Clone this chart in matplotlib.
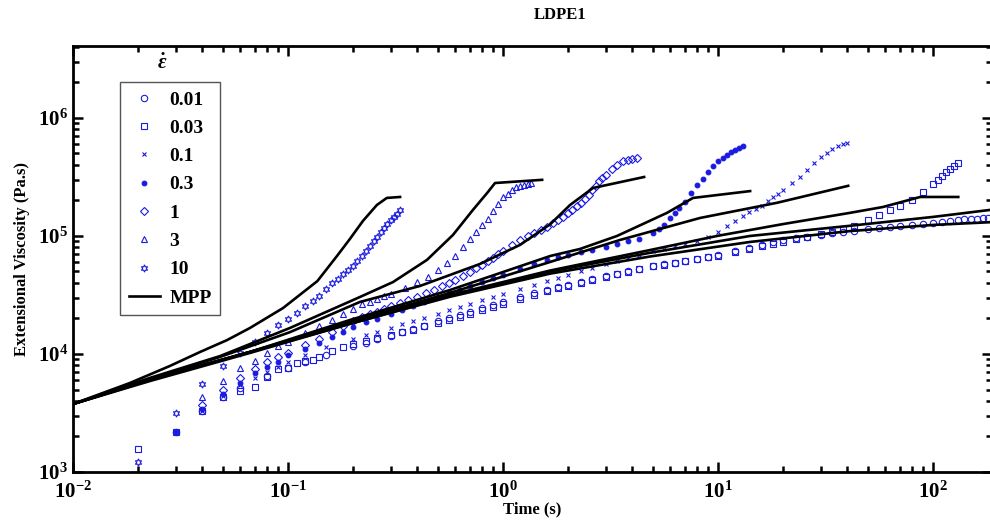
import math
import matplotlib.pyplot as plt
from matplotlib.ticker import LogLocator, FuncFormatter, NullFormatter

plt.rcParams['font.family'] = 'Liberation Serif'
plt.rcParams['font.weight'] = 'bold'
plt.rcParams['mathtext.fontset'] = 'custom'
plt.rcParams['mathtext.rm'] = 'Liberation Serif:bold'
plt.rcParams['mathtext.bf'] = 'Liberation Serif:bold'
plt.rcParams['mathtext.it'] = 'Liberation Serif:italic:bold'

# --- measured data (time in s, extensional viscosity in Pa.s) ---
t001 = [0.03, 0.04, 0.05, 0.06, 0.08, 0.10, 0.12, 0.15, 0.20, 0.23, 0.26, 0.30, 0.34, 0.38, 0.43, 0.50,
        0.56, 0.63, 0.70, 0.80, 0.90, 1.0, 1.2, 1.4, 1.6, 1.8, 2.0, 2.3, 2.6, 3.0, 3.4, 3.8, 4.3, 5.0,
        5.6, 6.3, 7.0, 8.0, 9.0, 10, 12, 14, 16, 18, 20, 23, 26, 30, 34, 38, 43, 50, 56, 63, 70, 80, 90,
        100, 110, 120, 130, 140, 150, 160, 170, 180]
eta001 = [2.18e3, 3.29e3, 4.32e3, 5.15e3, 6.51e3, 7.6e3, 8.55e3, 9.8e3, 1.16e4, 1.25e4, 1.33e4, 1.43e4,
          1.53e4, 1.62e4, 1.74e4, 1.89e4, 2.0e4, 2.14e4, 2.27e4, 2.44e4, 2.6e4, 2.75e4, 3.02e4, 3.26e4,
          3.49e4, 3.69e4, 3.86e4, 4.11e4, 4.33e4, 4.59e4, 4.8e4, 5.0e4, 5.23e4, 5.53e4, 5.74e4, 5.95e4,
          6.16e4, 6.43e4, 6.69e4, 6.9e4, 7.48e4, 7.97e4, 8.43e4, 8.85e4, 9.23e4, 9.56e4, 9.85e4, 1.02e5,
          1.05e5, 1.08e5, 1.11e5, 1.14e5, 1.17e5, 1.19e5, 1.22e5, 1.24e5, 1.27e5, 1.29e5, 1.31e5, 1.34e5,
          1.36e5, 1.38e5, 1.39e5, 1.40e5, 1.41e5, 1.42e5]

t003 = [0.02, 0.03, 0.04, 0.05, 0.06, 0.07, 0.08, 0.09, 0.10, 0.11, 0.12, 0.13, 0.14, 0.16, 0.18, 0.20,
        0.23, 0.26, 0.30, 0.34, 0.38, 0.43, 0.50, 0.56, 0.63, 0.70, 0.80, 0.90, 1.0, 1.2, 1.4, 1.6, 1.8,
        2.0, 2.3, 2.6, 3.0, 3.4, 3.8, 4.3, 5.0, 5.6, 6.3, 7.0, 8.0, 9.0, 10, 12, 14, 16, 18, 20, 23, 26,
        30, 34, 38, 43, 50, 56, 63, 70, 80, 90, 100, 105, 110, 115, 120, 125, 130]
eta003 = [1.57e3, 2.18e3, 3.29e3, 4.32e3, 4.86e3, 5.25e3, 6.38e3, 7.46e3, 7.6e3, 8.4e3, 8.73e3, 8.9e3,
          9.44e3, 1.06e4, 1.14e4, 1.21e4, 1.29e4, 1.36e4, 1.44e4, 1.53e4, 1.61e4, 1.71e4, 1.84e4, 1.94e4,
          2.06e4, 2.18e4, 2.35e4, 2.5e4, 2.65e4, 2.93e4, 3.18e4, 3.43e4, 3.62e4, 3.78e4, 4.03e4, 4.25e4,
          4.51e4, 4.74e4, 4.96e4, 5.21e4, 5.52e4, 5.72e4, 5.91e4, 6.1e4, 6.36e4, 6.57e4, 6.8e4, 7.29e4,
          7.74e4, 8.15e4, 8.51e4, 8.86e4, 9.38e4, 9.82e4, 1.04e5, 1.09e5, 1.14e5, 1.21e5, 1.37e5, 1.51e5,
          1.66e5, 1.79e5, 2.02e5, 2.36e5, 2.76e5, 2.98e5, 3.22e5, 3.46e5, 3.7e5, 3.94e5, 4.16e5]

t01 = [0.03, 0.04, 0.05, 0.06, 0.07, 0.08, 0.09, 0.10, 0.12, 0.15, 0.20, 0.23, 0.26, 0.30, 0.34, 0.38,
       0.43, 0.50, 0.56, 0.63, 0.70, 0.80, 0.90, 1.0, 1.2, 1.4, 1.6, 1.8, 2.0, 2.3, 2.6, 3.0, 3.4, 3.8,
       4.3, 5.0, 5.6, 6.3, 7.0, 8.0, 9.0, 10, 11, 12, 13, 14, 15, 16, 17, 18, 19, 20, 22, 24, 26, 28,
       30, 32, 34, 36, 38, 40]
eta01 = [2.18e3, 3.29e3, 4.4e3, 5.46e3, 6.32e3, 7.03e3, 7.76e3, 8.47e3, 9.8e3, 1.15e4, 1.34e4, 1.44e4,
         1.54e4, 1.67e4, 1.79e4, 1.9e4, 2.03e4, 2.2e4, 2.35e4, 2.5e4, 2.65e4, 2.85e4, 3.04e4, 3.22e4,
         3.55e4, 3.87e4, 4.16e4, 4.42e4, 4.67e4, 5.0e4, 5.34e4, 5.75e4, 6.12e4, 6.49e4, 6.9e4, 7.44e4,
         7.8e4, 8.23e4, 8.58e4, 9.12e4, 9.86e4, 1.07e5, 1.21e5, 1.35e5, 1.48e5, 1.59e5, 1.69e5, 1.81e5,
         1.96e5, 2.12e5, 2.28e5, 2.45e5, 2.79e5, 3.15e5, 3.64e5, 4.17e5, 4.65e5, 5.07e5, 5.5e5, 5.78e5,
         6.02e5, 6.14e5]

t03 = [0.03, 0.04, 0.05, 0.06, 0.07, 0.08, 0.09, 0.10, 0.12, 0.14, 0.16, 0.18, 0.20, 0.23, 0.26, 0.30,
       0.34, 0.38, 0.43, 0.50, 0.56, 0.63, 0.70, 0.80, 0.90, 1.0, 1.2, 1.4, 1.6, 1.8, 2.0, 2.3, 2.6, 3.0,
       3.4, 3.8, 4.3, 5.0, 5.3, 5.6, 6.0, 6.3, 6.6, 7.0, 7.5, 8.0, 8.5, 9.0, 9.5, 10, 10.5, 11, 11.5, 12,
       12.5, 13]
eta03 = [2.18e3, 3.42e3, 4.58e3, 5.68e3, 6.9e3, 7.76e3, 8.55e3, 9.8e3, 1.1e4, 1.24e4, 1.39e4, 1.55e4,
         1.69e4, 1.85e4, 1.99e4, 2.17e4, 2.35e4, 2.53e4, 2.74e4, 3.03e4, 3.26e4, 3.5e4, 3.75e4, 4.07e4,
         4.38e4, 4.67e4, 5.23e4, 5.76e4, 6.25e4, 6.6e4, 6.89e4, 7.29e4, 7.65e4, 8.12e4, 8.55e4, 9.0e4,
         9.5e4, 1.05e5, 1.15e5, 1.25e5, 1.41e5, 1.56e5, 1.72e5, 1.95e5, 2.29e5, 2.68e5, 3.06e5, 3.45e5,
         3.88e5, 4.29e5, 4.57e5, 4.86e5, 5.11e5, 5.33e5, 5.54e5, 5.76e5]

t1 = [0.04, 0.05, 0.06, 0.07, 0.08, 0.09, 0.10, 0.12, 0.14, 0.16, 0.18, 0.20, 0.22, 0.24, 0.26, 0.28,
      0.30, 0.33, 0.36, 0.40, 0.44, 0.48, 0.52, 0.56, 0.60, 0.65, 0.70, 0.75, 0.80, 0.85, 0.90, 0.95,
      1.0, 1.1, 1.2, 1.3, 1.4, 1.5, 1.6, 1.7, 1.8, 1.9, 2.0, 2.1, 2.2, 2.3, 2.4, 2.5, 2.6, 2.7, 2.8, 2.9,
      3.0, 3.2, 3.4, 3.6, 3.8, 4.0, 4.2]
eta1 = [3.7e3, 4.95e3, 6.27e3, 7.46e3, 8.55e3, 9.44e3, 1.02e4, 1.19e4, 1.34e4, 1.53e4, 1.71e4, 1.89e4,
        2.04e4, 2.17e4, 2.29e4, 2.41e4, 2.53e4, 2.7e4, 2.86e4, 3.06e4, 3.26e4, 3.49e4, 3.74e4, 3.98e4,
        4.22e4, 4.55e4, 4.93e4, 5.33e4, 5.72e4, 6.1e4, 6.52e4, 6.97e4, 7.42e4, 8.32e4, 9.25e4, 9.94e4,
        1.06e5, 1.13e5, 1.2e5, 1.28e5, 1.37e5, 1.46e5, 1.55e5, 1.66e5, 1.79e5, 1.92e5, 2.06e5, 2.23e5,
        2.45e5, 2.67e5, 2.91e5, 3.11e5, 3.3e5, 3.68e5, 3.99e5, 4.29e5, 4.4e5, 4.51e5, 4.58e5]

t3 = [0.04, 0.05, 0.06, 0.07, 0.08, 0.09, 0.10, 0.12, 0.14, 0.16, 0.18, 0.20, 0.22, 0.24, 0.26, 0.28,
      0.30, 0.35, 0.40, 0.45, 0.50, 0.55, 0.60, 0.65, 0.70, 0.75, 0.80, 0.85, 0.90, 0.95, 1.00, 1.05,
      1.10, 1.15, 1.20, 1.25, 1.30, 1.35]
eta3 = [4.32e3, 5.9e3, 7.6e3, 8.73e3, 1.02e4, 1.17e4, 1.26e4, 1.51e4, 1.71e4, 1.94e4, 2.18e4, 2.4e4,
        2.63e4, 2.76e4, 2.93e4, 3.1e4, 3.22e4, 3.62e4, 4.07e4, 4.5e4, 5.15e4, 5.9e4, 6.77e4, 8.07e4,
        9.44e4, 1.08e5, 1.24e5, 1.39e5, 1.63e5, 1.87e5, 2.14e5, 2.27e5, 2.45e5, 2.6e5, 2.66e5, 2.71e5,
        2.76e5, 2.81e5]

t10 = [0.02, 0.03, 0.04, 0.05, 0.06, 0.07, 0.08, 0.09, 0.10, 0.11, 0.12, 0.13, 0.14, 0.15, 0.16, 0.17,
       0.18, 0.19, 0.20, 0.21, 0.22, 0.23, 0.24, 0.25, 0.26, 0.27, 0.28, 0.29, 0.30, 0.31, 0.32, 0.33]
eta10 = [1.22e3, 3.16e3, 5.57e3, 7.9e3, 1.02e4, 1.26e4, 1.51e4, 1.76e4, 1.98e4, 2.22e4, 2.55e4, 2.81e4,
         3.1e4, 3.56e4, 4.0e4, 4.32e4, 4.77e4, 5.15e4, 5.57e4, 6.14e4, 6.77e4, 7.46e4, 8.2e4, 9.07e4,
         9.8e4, 1.08e5, 1.17e5, 1.26e5, 1.37e5, 1.45e5, 1.54e5, 1.66e5]

# --- MPP model predictions ---
mpp_t001 = [0.01, 0.0228, 0.0665, 0.194, 0.566, 1.66, 4.83, 14.1, 41.1, 100, 188]
mpp_eta001 = [3.77e3, 6.03e3, 1.04e4, 1.8e4, 3.1e4, 5.0e4, 7.2e4, 1.0e5, 1.22e5, 1.45e5, 1.67e5]
mpp_t003 = [0.01, 0.0228, 0.0665, 0.194, 0.566, 1.66, 4.83, 9.89, 20.0, 41.1, 58.5, 87.1, 131]
mpp_eta003 = [3.77e3, 6.03e3, 1.04e4, 1.83e4, 3.16e4, 5.1e4, 7.6e4, 1.0e5, 1.26e5, 1.57e5, 1.76e5,
              2.14e5, 2.14e5]
mpp_t01 = [0.01, 0.0228, 0.0665, 0.194, 0.566, 1.66, 3.5, 8.24, 18.8, 40.3]
mpp_eta01 = [3.77e3, 6.03e3, 1.04e4, 1.87e4, 3.29e4, 6.03e4, 9.25e4, 1.42e5, 1.91e5, 2.66e5]
mpp_t03 = [0.01, 0.0228, 0.0665, 0.194, 0.566, 1.66, 2.28, 3.39, 5.79, 7.65, 14.1]
mpp_eta03 = [3.77e3, 6.03e3, 1.04e4, 1.94e4, 3.48e4, 6.77e4, 7.76e4, 1.0e5, 1.57e5, 2.1e5, 2.4e5]
mpp_t1 = [0.01, 0.0228, 0.0483, 0.102, 0.216, 0.411, 0.781, 1.2, 1.66, 2.05, 2.62, 4.53]
mpp_eta1 = [3.77e3, 6.14e3, 9.44e3, 1.53e4, 2.76e4, 3.77e4, 5.79e4, 8.4e4, 1.26e5, 1.83e5, 2.55e5, 3.16e5]
mpp_t3 = [0.01, 0.0228, 0.0483, 0.102, 0.216, 0.308, 0.443, 0.585, 0.724, 0.843, 0.918, 1.52]
mpp_eta3 = [3.77e3, 6.27e3, 9.6e3, 1.66e4, 3.04e4, 4.07e4, 6.27e4, 1.02e5, 1.66e5, 2.31e5, 2.81e5, 2.99e5]
mpp_t10 = [0.01, 0.0184, 0.0282, 0.039, 0.052, 0.0665, 0.0948, 0.137, 0.169, 0.194, 0.223, 0.259, 0.288, 0.332]
mpp_eta10 = [3.77e3, 5.68e3, 7.91e3, 1.04e4, 1.31e4, 1.66e4, 2.45e4, 4.15e4, 6.77e4, 9.43e4, 1.34e5,
             1.83e5, 2.1e5, 2.14e5]
lve_t = [0.01, 0.0228, 0.0665, 0.194, 0.566, 1.66, 4.83, 14.1, 41.1, 100, 188]
lve_eta = [3.77e3, 5.9e3, 1.02e4, 1.8e4, 3.05e4, 4.8e4, 6.7e4, 8.9e4, 1.1e5, 1.24e5, 1.31e5]

labels = ['0.01', '0.03', '0.1', '0.3', '1', '3', '10']
data = [(t001, eta001), (t003, eta003), (t01, eta01), (t03, eta03), (t1, eta1), (t3, eta3), (t10, eta10)]
mpp = [(mpp_t001, mpp_eta001), (mpp_t003, mpp_eta003), (mpp_t01, mpp_eta01), (mpp_t03, mpp_eta03),
       (mpp_t1, mpp_eta1), (mpp_t3, mpp_eta3), (mpp_t10, mpp_eta10), (lve_t, lve_eta)]

blue = '#1a1ae0'
styles = [
    dict(marker='o', ms=4.6, mfc='none'),
    dict(marker='s', ms=4.6, mfc='none'),
    dict(marker='x', ms=3.2),
    dict(marker='o', ms=3.4, mfc=blue),
    dict(marker='D', ms=3.8, mfc='none'),
    dict(marker='^', ms=4.6, mfc='none'),
    dict(marker=(6, 1, 0), ms=5.2, mfc='none'),
]

fig = plt.figure(figsize=(9.9, 5.27), dpi=100)
ax = fig.add_axes([73 / 990, 55 / 527, 919 / 990, 426 / 527])

handles = []
for (t, eta), lab, st in zip(data, labels, styles):
    h, = ax.plot(t, eta, linestyle='none', color=blue, mec=blue, mew=0.8, label=lab, **st)
    handles.append(h)

for i, (t, eta) in enumerate(mpp):
    h, = ax.plot(t, eta, color='black', lw=1.9, solid_joinstyle='round')
    if i == 0:
        h_mpp = h

ax.set_xscale('log')
ax.set_yscale('log')
ax.set_xlim(0.01, 188)
ax.set_ylim(1e3, 4.07e6)

ax.xaxis.set_major_locator(LogLocator(base=10, numticks=20))
ax.yaxis.set_major_locator(LogLocator(base=10, numticks=20))
ax.xaxis.set_minor_locator(LogLocator(base=10, subs=range(2, 10), numticks=20))
ax.yaxis.set_minor_locator(LogLocator(base=10, subs=range(2, 10), numticks=20))
fmt = FuncFormatter(lambda v, p: r'$\mathbf{10^{%d}}$' % round(math.log10(v)))
ax.xaxis.set_major_formatter(fmt)
ax.yaxis.set_major_formatter(fmt)
ax.xaxis.set_minor_formatter(NullFormatter())
ax.yaxis.set_minor_formatter(NullFormatter())

ax.tick_params(which='both', direction='in', top=True, right=True, width=1.8, labelsize=15)
ax.tick_params(which='major', length=7)
ax.tick_params(which='minor', length=4)
ax.tick_params(axis='x', which='major', pad=7)
for s in ax.spines.values():
    s.set_linewidth(2)

ax.set_xlabel('Time (s)', fontsize=12, fontweight='bold', labelpad=-1)
ax.set_ylabel('Extensional Viscosity (Pa.s)', fontsize=12, fontweight='bold', labelpad=6)
fig.text(560 / 990, 1 - 15 / 527, 'LDPE1', ha='center', va='center', fontsize=12, fontweight='bold')

handles.append(h_mpp)
leg = ax.legend(handles=handles, labels=labels + ['MPP'], loc='upper left',
                bbox_to_anchor=(0.051, 0.915), borderaxespad=0, fancybox=False,
                edgecolor='#555555', framealpha=1, handlelength=1.6, handletextpad=0.5,
                labelspacing=0.55, borderpad=0.45,
                prop={'family': 'Liberation Serif', 'weight': 'bold', 'size': 14})
leg.get_frame().set_linewidth(1.0)
ax.text(0.097, 0.957, r'$\dot{\varepsilon}$', transform=ax.transAxes, ha='center', va='center',
        fontsize=15)

fig.savefig('out.png', dpi=100)
